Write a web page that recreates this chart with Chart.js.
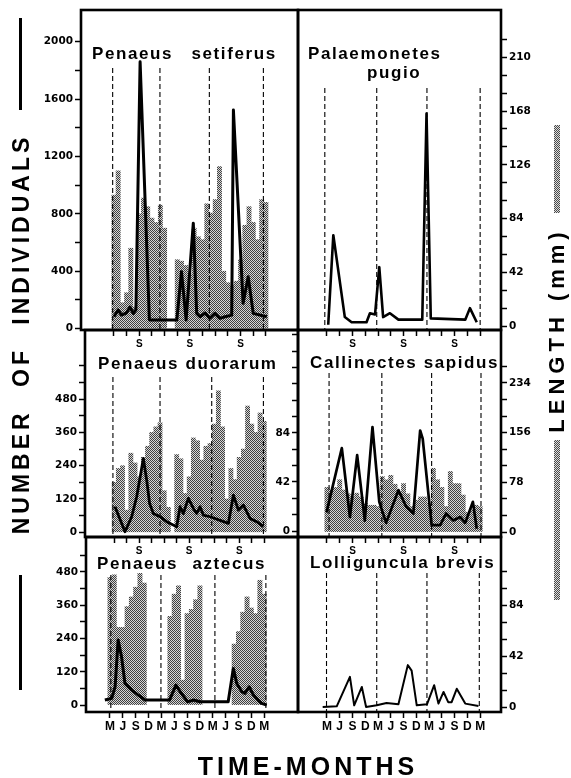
<!DOCTYPE html>
<html><head><meta charset="utf-8">
<script src="https://cdn.jsdelivr.net/npm/chart.js@4.4.1/dist/chart.umd.min.js"></script>
<style>
html,body{margin:0;padding:0;background:#fff;}
#stage{position:relative;width:571px;height:778px;overflow:hidden;font-family:"Liberation Sans",Arial,sans-serif;color:#000;}
canvas{position:absolute;left:0;top:0;}
.sp{position:absolute;font-weight:bold;font-size:17px;letter-spacing:1.6px;white-space:nowrap;line-height:1;z-index:5;}
.vt{position:absolute;font-weight:bold;white-space:nowrap;line-height:1;z-index:5;transform:translate(-50%,-50%) rotate(-90deg);}
.bar{position:absolute;background:#000;z-index:5;}
.stip{position:absolute;z-index:5;background-image:repeating-conic-gradient(#4a4a4a 0 25%,#dcdcdc 0 50%);background-size:2px 2px;}
</style></head><body>
<div id="stage">
<canvas id="c1" width="571" height="778"></canvas>
<canvas id="c2" width="571" height="778"></canvas>
<canvas id="c3" width="571" height="778"></canvas>
<canvas id="c4" width="571" height="778"></canvas>
<canvas id="c5" width="571" height="778"></canvas>
<canvas id="c6" width="571" height="778"></canvas>

<div class="sp" style="left:92px;top:45px;word-spacing:12px">Penaeus setiferus</div>
<div class="sp" style="left:308px;top:45px">Palaemonetes</div>
<div class="sp" style="left:367px;top:64px">pugio</div>
<div class="sp" style="left:98px;top:355px">Penaeus duorarum</div>
<div class="sp" style="left:310px;top:354px">Callinectes sapidus</div>
<div class="sp" style="left:97px;top:555px;word-spacing:8px">Penaeus aztecus</div>
<div class="sp" style="left:310px;top:554px">Lolliguncula brevis</div>

<div class="bar" style="left:19px;top:18px;width:3px;height:92px"></div>
<div class="vt" style="left:21px;top:334px;font-size:23px;letter-spacing:4px;word-spacing:12px">NUMBER OF INDIVIDUALS</div>
<div class="bar" style="left:19px;top:575px;width:3px;height:115px"></div>

<div class="stip" style="left:554px;top:125px;width:6px;height:88px"></div>
<div class="vt" style="left:557px;top:330px;font-size:22px;letter-spacing:5px">LENGTH (mm)</div>
<div class="stip" style="left:554px;top:440px;width:6px;height:160px"></div>

<div class="vt" style="left:308px;top:766px;font-size:25px;letter-spacing:4px;transform:translate(-50%,-50%)">TIME-MONTHS</div>
</div>
<script>
// ---------- shared axis data ----------
const monthTicks = [0,3,6,9,12,15,18,21,24,27,30,33,36];
const quarterLabels = ['M','J','S','D','M','J','S','D','M','J','S','D','M'];
const barMonths = [0,1,2,3,4,5,6,7,8,9,10,11,12,13,14,15,16,17,18,19,20,21,22,23,24,25,26,27,28,29,30,31,32,33,34,35,36];

// ---------- Penaeus setiferus ----------
const setiferusLineMonths = [0,1.0,1.8,3.0,3.8,4.6,5.2,6.2,8.4,14.9,16.0,17.1,18.8,19.6,20.4,21.6,22.7,23.9,25.1,26.3,27.9,28.3,30.6,31.8,33.0,36.2];
const setiferusLineCounts = [82,130,94,110,150,105,130,1860,60,60,396,60,735,106,82,108,71,106,71,82,94,1524,176,361,106,82];
const setiferusBars = [930,1100,180,250,560,150,800,910,850,770,740,860,700,null,null,480,470,440,380,700,640,620,870,805,900,1130,400,320,300,330,480,720,850,740,620,900,880];
const setiferusTicks = [0,200,400,600,800,1000,1200,1400,1600,1800,2000];
const setiferusTickLabels = [0,400,800,1200,1600,2000];
const setiferusYearLines = [-0.3,10.9,22.6,35.4];

// ---------- Palaemonetes pugio ----------
const pugioLineMonths = [0.3,1.5,4.2,5.8,9.3,10.1,11.3,12.3,13.2,14.8,16.8,22.4,23.4,24.4,32.5,33.6,35.2];
const pugioLineValues = [1,71,7,3,3,10,9,46,7,10,5,5,166,6,5,14,3];
const pugioTicks = [0,14,28,42,56,70,84,98,112,126,140,154,168,182,196,210,224];
const pugioTickLabels = [0,42,84,126,168,210];
const pugioYearLines = [-0.5,11.7,23.5,36.0];

// ---------- Penaeus duorarum ----------
const duorarumLineMonths = [0.2,2.6,4.2,5.4,7.0,7.8,8.5,9.4,11.0,12.6,15.0,15.8,16.6,17.8,19.0,19.8,20.6,21.4,23.0,27.4,28.6,29.8,31.0,32.6,34.2,35.8];
const duorarumLineCounts = [92,2,56,128,266,188,104,68,56,38,20,92,68,122,86,68,92,62,56,32,134,80,98,50,38,20];
const duorarumBars = [180,230,240,80,285,250,200,270,310,360,380,395,150,90,null,280,265,140,200,340,330,260,310,320,390,510,380,120,230,190,270,300,455,390,360,430,400];
const duorarumTicks = [0,60,120,180,240,300,360,420,480,540,600];
const duorarumTickLabels = [0,120,240,360,480];
const duorarumYearLines = [-0.3,11.0,23.4,35.8];

// ---------- Callinectes sapidus ----------
const sapidusLineMonths = [-0.1,3.5,5.4,7.1,8.9,10.7,12.3,13.9,16.8,18.6,20.3,21.9,22.5,24.6,26.6,28.0,29.7,31.3,32.5,34.3,35.2];
const sapidusLineCounts = [16,71,12,65,9,89,25,7,35,21,15,86,79,5,5,15,9,12,7,25,2];
const sapidusBars = [70,66,70,82,66,60,55,61,55,45,42,42,40,87,82,89,75,61,76,60,40,50,55,55,45,100,82,70,40,95,76,76,58,31,35,42,40];
const sapidusCountTicks = [0,14,28,42,56,70,84,98,112,126,140,154,168];
const sapidusCountLabels = [0,42,84];
const sapidusLengthTicks = [0,26,52,78,104,130,156,182,208,234,260];
const sapidusLengthLabels = [0,78,156,234];
const sapidusYearLines = [0.5,12.9,24.6,36.2];

// ---------- Penaeus aztecus ----------
const aztecusLineMonths = [-1.2,0.4,1.2,1.9,2.7,3.5,5.1,6.6,8.2,13.9,15.4,16.4,18.1,19.5,21.0,27.6,28.8,29.6,30.8,31.5,32.5,33.5,34.6,35.4,36.6];
const aztecusLineCounts = [18,24,66,235,174,78,54,36,18,18,72,48,12,18,12,12,132,78,48,42,66,36,18,6,0];
const aztecusBars = [460,470,280,280,355,390,425,475,440,null,null,null,null,null,320,400,430,90,330,345,380,430,null,null,null,null,null,null,null,220,265,335,390,350,330,450,400];
const aztecusTicks = [0,60,120,180,240,300,360,420,480,540];
const aztecusTickLabels = [0,120,240,360,480];
const aztecusYearLines = [0.2,11.9,24.5,36.4];

// ---------- Lolliguncula brevis ----------
const brevisLineMonths = [-1.0,2.3,5.4,6.4,8.2,9.2,11.7,14.0,16.8,19.0,19.9,21.1,23.5,25.2,26.2,27.4,28.5,29.3,30.5,32.5,35.6];
const brevisLineValues = [0,0.6,24.8,1.4,16.5,0,1.4,3.3,2.2,34.5,30,1.4,2.2,18,2.8,12.4,4,4,15,2.8,0.8];
const brevisTicks = [0,14,28,42,56,70,84,98,112];
const brevisTickLabels = [0,42,84];
const brevisYearLines = [-0.1,11.7,23.5,35.8];

// ---------- helpers ----------
const W = 571, H = 778;
const tickFont = {family:'"DejaVu Sans", "Liberation Sans", sans-serif', weight:'bold', size:10.5};
const pairs = (xs, ys) => xs.map((x, i) => ({x, y: ys[i]})).filter(p => p.y !== null);

const tile = document.createElement('canvas');
tile.width = 2; tile.height = 2;
(function(){ const g = tile.getContext('2d'); g.fillStyle='#d6d6d6'; g.fillRect(0,0,2,2); g.fillStyle='#3f3f3f'; g.fillRect(0,0,1,1); g.fillRect(1,1,1,1); })();

function yAxis(pos, min, max, ticksArr, labelsArr, width, display) {
  return {
    type:'linear', position:pos, display:display, min:min, max:max,
    afterBuildTicks: s => { s.ticks = ticksArr.map(v => ({value:v})); },
    afterFit: s => { s.width = width; s.paddingTop = 0; s.paddingBottom = 0; },
    ticks: {autoSkip:false, color:'#000', padding:2, font:tickFont,
            callback: v => labelsArr.includes(v) ? String(v) : ''},
    grid: {drawOnChartArea:false, drawTicks:true, tickLength:6, tickWidth:1.5, tickColor:'#000'},
    border: {display:false}
  };
}
function xAxis(min, max, bottomRow) {
  return {
    type:'linear', min:min, max:max, offset:false,
    afterBuildTicks: s => { s.ticks = monthTicks.map(v => ({value:v})); },
    afterFit: s => { s.height = 30; s.paddingLeft = 0; s.paddingRight = 0; },
    ticks: {autoSkip:false, maxRotation:0, minRotation:0, color:'#000',
            padding: bottomRow ? 1 : 2,
            font: {family:'"Liberation Sans", Arial, sans-serif', weight:'bold', size: bottomRow ? 12 : 10},
            callback: (v, i) => bottomRow ? quarterLabels[i] : (quarterLabels[i] === 'S' ? 'S' : '')},
    grid: {drawOnChartArea:false, drawTicks:true, tickLength:6, tickWidth:1.5, tickColor:'#000', offset:false},
    border: {display:false}
  };
}
function frame(yearLines, dashTop) {
  return {
    id:'frame',
    afterDatasetsDraw(chart) {
      const {ctx, chartArea:a, scales} = chart;
      ctx.save();
      ctx.setLineDash([5,3]); ctx.lineWidth = 1.1; ctx.strokeStyle = '#000';
      yearLines.forEach(m => {
        const x = scales.x.getPixelForValue(m);
        ctx.beginPath(); ctx.moveTo(x, a.top + dashTop); ctx.lineTo(x, a.bottom); ctx.stroke();
      });
      ctx.restore();
    },
    afterDraw(chart) {
      const {ctx, chartArea:a} = chart;
      ctx.save(); ctx.lineWidth = 2.6; ctx.strokeStyle = '#000';
      ctx.strokeRect(a.left, a.top, a.right - a.left, a.bottom - a.top);
      ctx.restore();
    }
  };
}
// area: chart area rectangle; wl/wr: visible left/right axis widths
function panel(id, area, wl, wr, scales, datasets, yearLines, dashTop) {
  const ctx = document.getElementById(id).getContext('2d');
  datasets.forEach(d => { if (d.type === 'bar') d.backgroundColor = ctx.createPattern(tile, 'repeat'); });
  new Chart(ctx, {
    type:'line',
    data:{datasets:datasets},
    options:{
      responsive:false, animation:false, devicePixelRatio:1,
      layout:{autoPadding:false, padding:{left:area.l - wl, right:W - area.r - wr, top:area.t, bottom:H - area.b - 30}},
      plugins:{legend:{display:false}, tooltip:{enabled:false}},
      scales:scales
    },
    plugins:[frame(yearLines, dashTop)]
  });
}
const lineDs = (data, axis, lw) => ({type:'line', data:data, yAxisID:axis, borderColor:'#000', borderWidth:lw, pointRadius:0, tension:0, fill:false, order:1, borderJoinStyle:'round'});
const barDs = (data, axis) => ({type:'bar', data:data, yAxisID:axis, borderWidth:0, barPercentage:1, categoryPercentage:1, order:2});

// Top-left: Penaeus setiferus
panel('c1', {l:81, r:298, t:10, b:330}, 45, 0,
  {x: xAxis(-7.8, 43.6, false), y: yAxis('left', -10, 2221, setiferusTicks, setiferusTickLabels, 45, true)},
  [lineDs(pairs(setiferusLineMonths, setiferusLineCounts), 'y', 3), barDs(pairs(barMonths, setiferusBars), 'y')],
  setiferusYearLines, 58);

// Top-right: Palaemonetes pugio
panel('c2', {l:298, r:501, t:10, b:330}, 0, 40,
  {x: xAxis(-6.8, 40.9, false), y: yAxis('right', -3.1, 247, pugioTicks, pugioTickLabels, 40, true)},
  [lineDs(pairs(pugioLineMonths, pugioLineValues), 'y', 2.6)],
  pugioYearLines, 78);

// Middle-left: Penaeus duorarum
panel('c3', {l:85, r:298, t:330, b:537}, 45, 0,
  {x: xAxis(-7.0, 44.1, false), y: yAxis('left', -17, 729, duorarumTicks, duorarumTickLabels, 45, true)},
  [lineDs(pairs(duorarumLineMonths, duorarumLineCounts), 'y', 2.8), barDs(pairs(barMonths, duorarumBars), 'y')],
  duorarumYearLines, 47);

// Middle-right: Callinectes sapidus
panel('c4', {l:298, r:501, t:330, b:537}, 30, 40,
  {x: xAxis(-6.8, 40.9, false),
   y: yAxis('left', -5.1, 172, sapidusCountTicks, sapidusCountLabels, 30, true),
   y2: yAxis('right', -7.8, 317, sapidusLengthTicks, sapidusLengthLabels, 40, true)},
  [lineDs(pairs(sapidusLineMonths, sapidusLineCounts), 'y', 2.7), barDs(pairs(barMonths, sapidusBars), 'y2')],
  sapidusYearLines, 43);

// Bottom-left: Penaeus aztecus
panel('c5', {l:86, r:298, t:537, b:712}, 45, 0,
  {x: xAxis(-5.6, 43.9, true), y: yAxis('left', -25, 606, aztecusTicks, aztecusTickLabels, 45, true)},
  [lineDs(pairs(aztecusLineMonths, aztecusLineCounts), 'y', 3), barDs(pairs(barMonths, aztecusBars), 'y')],
  aztecusYearLines, 38);

// Bottom-right: Lolliguncula brevis
panel('c6', {l:298, r:501, t:537, b:712}, 0, 40,
  {x: xAxis(-6.8, 40.9, true), y: yAxis('right', -4.1, 140, brevisTicks, brevisTickLabels, 40, true)},
  [lineDs(pairs(brevisLineMonths, brevisLineValues), 'y', 2.0)],
  brevisYearLines, 36);
</script>
</body></html>
